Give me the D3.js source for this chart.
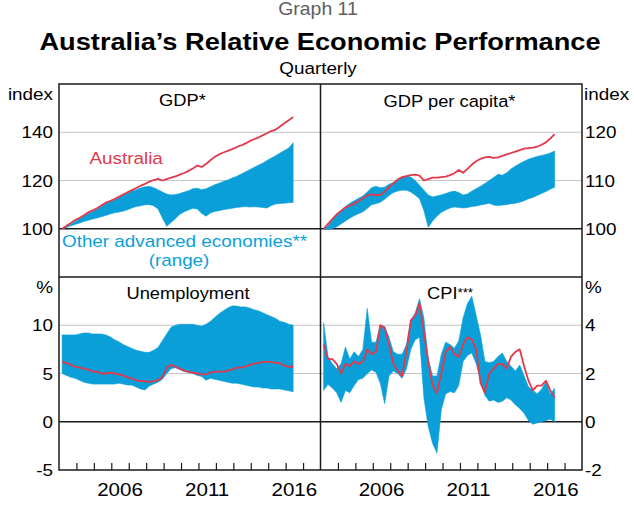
<!DOCTYPE html>
<html>
<head>
<meta charset="utf-8">
<script src="https://cdn.jsdelivr.net/npm/d3@7/dist/d3.min.js"></script>
<style>
  html, body { margin: 0; padding: 0; background: #fff; }
  svg { display: block; }
</style>
</head>
<body>
<div id="chart"></div>
<script>
// ---------------- DATA (quarterly, 2003 Q1 – 2016 Q2) ----------------
const quarters = [
  "2003-Q1","2003-Q2","2003-Q3","2003-Q4","2004-Q1","2004-Q2","2004-Q3","2004-Q4",
  "2005-Q1","2005-Q2","2005-Q3","2005-Q4","2006-Q1","2006-Q2","2006-Q3","2006-Q4",
  "2007-Q1","2007-Q2","2007-Q3","2007-Q4","2008-Q1","2008-Q2","2008-Q3","2008-Q4",
  "2009-Q1","2009-Q2","2009-Q3","2009-Q4","2010-Q1","2010-Q2","2010-Q3","2010-Q4",
  "2011-Q1","2011-Q2","2011-Q3","2011-Q4","2012-Q1","2012-Q2","2012-Q3","2012-Q4",
  "2013-Q1","2013-Q2","2013-Q3","2013-Q4","2014-Q1","2014-Q2","2014-Q3","2014-Q4",
  "2015-Q1","2015-Q2","2015-Q3","2015-Q4","2016-Q1","2016-Q2"
];

// GDP index (2003 Q1 = 100)
const gdpAus = [
  100.0,101.2,102.4,103.6, 104.5,105.6,106.8,107.6, 108.5,109.6,110.8,111.5,
  112.3,113.2,114.2,115.1, 116.0,116.9,117.8,118.6, 119.5,120.2,120.7,120.0,
  120.6,121.2,121.7,122.4, 123.1,124.0,125.0,126.2, 125.6,126.8,128.4,129.8,
  130.8,131.6,132.3,133.0, 133.8,134.5,135.3,136.3, 137.1,137.8,138.7,139.6,
  140.5,141.1,142.4,143.7, 145.0,146.3
];
const gdpHigh = [
  100.0,100.8,101.9,103.0, 104.3,105.3,106.3,107.2, 108.1,109.2,110.4,111.2,
  112.0,113.0,113.9,114.8, 115.6,116.2,116.9,117.4, 117.6,117.0,116.2,115.2,
  114.4,114.0,114.2,114.6, 115.2,115.8,116.6,116.8, 116.2,116.6,117.4,118.2,
  118.9,119.6,120.2,121.0, 121.7,122.6,123.5,124.5, 125.4,126.3,127.2,128.3,
  129.3,130.3,131.4,132.4, 133.5,135.6
];
const gdpLow = [
  100.0,100.5,101.2,101.8, 102.4,103.0,103.5,104.0, 104.5,105.0,105.5,106.1,
  106.6,106.9,107.3,107.9, 108.6,109.2,109.5,109.9, 110.0,109.5,108.2,104.5,
  101.0,102.6,104.2,106.0, 107.0,107.8,108.5,108.2, 106.4,105.2,106.5,107.2,
  107.5,107.9,108.2,108.5, 108.8,109.0,109.2,109.0, 109.1,109.0,108.8,108.6,
  109.6,110.3,110.5,110.6, 110.8,110.9
];

// GDP per capita index (2003 Q1 = 100)
const gdppcAus = [
  100.0,101.0,102.0,103.0, 103.7,104.4,104.8,105.2, 105.7,106.3,106.9,107.1,
  107.0,107.0,107.7,108.6, 109.4,110.2,110.7,110.9, 111.1,111.2,111.0,110.0,
  110.3,110.6,110.6,110.7, 110.8,111.1,111.5,112.2, 111.6,112.4,113.3,114.0,
  114.5,114.8,114.9,114.7, 114.8,115.1,115.4,115.7, 116.0,116.3,116.6,116.7,
  116.8,117.0,117.4,117.9, 118.7,119.6
];
const gdppcHigh = [
  100.0,100.6,101.8,103.0, 103.8,104.6,105.3,105.8, 106.3,106.8,107.6,108.5,
  108.8,108.5,108.6,109.2, 109.6,110.1,110.6,110.9, 110.7,110.0,109.0,108.0,
  107.0,106.6,106.8,107.0, 107.3,107.6,107.8,107.5, 107.0,107.2,107.8,108.3,
  108.8,109.4,110.0,110.6, 111.3,111.1,111.6,112.4, 113.0,113.5,114.0,114.4,
  114.7,115.0,115.2,115.4, 115.7,116.1
];
const gdppcLow = [
  100.0, 99.9,100.0,100.4, 101.0,101.6,102.2,102.7, 103.1,103.5,104.2,105.0,
  105.2,105.5,106.1,106.9, 107.5,107.8,108.0,108.0, 107.6,107.0,106.2,103.8,
  100.3,101.6,102.6,103.4, 103.9,104.3,104.5,104.4, 104.3,104.4,104.6,104.7,
  104.9,105.1,105.3,104.9, 104.8,104.9,105.0,105.2, 105.3,105.5,105.8,106.2,
  106.5,106.9,107.3,107.7, 108.2,108.6
];

// Unemployment rate (%)
const unempAus = [
  6.2,6.1,5.9,5.7, 5.6,5.5,5.4,5.2, 5.2,5.0,5.0,5.1, 5.0,4.9,4.8,4.6,
  4.5,4.3,4.2,4.2, 4.1,4.2,4.3,4.6, 5.6,5.9,5.7,5.5, 5.3,5.2,5.1,5.0,
  4.9,4.9,5.1,5.2, 5.2,5.2,5.3,5.4, 5.6,5.6,5.7,5.9, 6.0,6.1,6.2,6.2,
  6.2,6.1,6.1,5.8, 5.7,5.7
];
const unempHigh = [
  9.0,9.0,9.0,9.0, 9.1,9.2,9.2,9.1, 9.1,9.1,9.0,8.8, 8.5,8.3,8.0,7.8,
  7.6,7.4,7.3,7.2, 7.2,7.4,7.7,8.4, 9.1,9.8,10.0,10.1, 10.1,10.1,10.1,10.0,
  9.9,10.1,10.4,10.8, 11.2,11.5,11.8,12.0, 12.0,11.9,11.9,11.8, 11.6,11.5,11.3,11.1,
  10.9,10.7,10.4,10.3, 10.1,10.0
];
const unempLow = [
  5.0,4.8,4.6,4.5, 4.3,4.1,4.0,3.9, 3.9,3.9,3.9,3.9, 3.9,4.0,3.9,3.8,
  3.8,3.6,3.4,3.3, 3.7,3.9,4.1,4.4, 5.0,5.5,5.6,5.4, 5.2,5.1,5.0,4.8,
  4.7,4.3,4.5,4.4, 4.3,4.2,4.1,4.0, 4.0,3.9,3.8,3.7, 3.6,3.6,3.5,3.5,
  3.4,3.4,3.4,3.3, 3.2,3.1
];

// CPI inflation, year-ended (%)
const cpiAus = [
  3.2,2.6,2.6,2.4, 2.0,2.4,2.3,2.5, 2.4,2.5,3.0,2.8, 2.9,4.0,3.9,3.2,
  2.4,2.1,1.9,2.9, 4.2,4.4,4.9,3.7, 2.5,1.5,1.2,2.0, 2.9,3.1,2.8,2.7,
  3.2,3.5,3.4,3.0, 1.6,1.2,2.0,2.2, 2.4,2.4,2.2,2.7, 2.9,3.0,2.3,1.7,
  1.3,1.5,1.5,1.7, 1.3,1.0
];
const cpiHigh = [
  4.1,2.7,2.4,2.2, 2.4,3.1,2.6,2.9, 2.7,3.0,4.7,3.3, 3.3,4.0,3.95,3.5,
  2.9,2.8,2.8,3.2, 4.2,4.5,5.1,4.3, 2.6,1.9,1.9,2.8, 3.3,3.2,3.05,3.35,
  4.3,4.9,5.2,4.4, 3.6,2.5,2.45,2.5, 2.7,2.85,2.5,2.3, 2.1,2.35,1.9,1.45,
  1.3,1.15,1.35,1.65, 1.15,1.38
];
const cpiLow = [
  1.3,1.55,1.4,1.2, 0.8,1.3,1.2,1.5, 1.75,1.8,2.0,2.15, 2.05,1.6,0.75,1.9,
  2.1,2.0,1.8,2.2, 3.0,3.4,3.5,1.0, -0.2,-0.9,-1.3,0.5, 1.15,1.25,1.2,1.5,
  2.5,2.75,2.85,2.4, 1.7,1.1,0.85,0.9, 0.8,0.85,1.0,0.9, 0.7,0.55,0.35,0.05,
  -0.1,-0.05,0.0,0.05, 0.1,0.0
];

// Axis tick labels
const gdpTicks = [100, 120, 140];
const gdppcTicks = [100, 110, 120];
const unempTicks = [-5, 0, 5, 10];
const cpiTicks = [-2, 0, 2, 4];
const yearLabels = [2006, 2011, 2016];
const yearTicks = [2004,2005,2006,2007,2008,2009,2010,2011,2012,2013,2014,2015,2016,2017];

// ---------------- DRAWING ----------------
const W = 634, H = 506;
const SX = 1.11; // horizontal stretch of the lettering
const FONT = "'Liberation Sans', Arial, Helvetica, sans-serif";
const BLUE = "#0a9fd9";
const RED = "#e2394b";

const svg = d3.select("#chart").append("svg")
  .attr("width", W).attr("height", H)
  .attr("viewBox", `0 0 ${W} ${H}`);
svg.append("rect").attr("width", W).attr("height", H).attr("fill", "#fff");

function txt(x, y, s, o = {}) {
  return svg.append("text")
    .attr("transform", `translate(${x},${y}) scale(${o.sx || SX},1)`)
    .attr("text-anchor", o.anchor || "start")
    .attr("fill", o.fill || "#000")
    .attr("font-weight", o.weight || "normal")
    .style("font-family", FONT)
    .style("font-size", (o.size || 17) + "px")
    .text(s);
}

const dates = quarters.map(q => {
  const [y, qq] = q.split("-Q");
  return +y + (+qq - 1) / 4 + 0.18;
});

const L = 59, M = 320.5, R = 582;
const T = 84, MID = 277, B = 470;

const panels = [
  { x0: L, x1: M, y0: MID, y1: T, dom: [80, 160], ticks: gdpTicks, base: 100,
    lo: gdpLow, hi: gdpHigh, aus: gdpAus, side: "left" },
  { x0: M, x1: R, y0: MID, y1: T, dom: [90, 130], ticks: gdppcTicks, base: 100,
    lo: gdppcLow, hi: gdppcHigh, aus: gdppcAus, side: "right" },
  { x0: L, x1: M, y0: B, y1: MID, dom: [-5, 15], ticks: unempTicks, base: 0,
    lo: unempLow, hi: unempHigh, aus: unempAus, side: "left", xaxis: true },
  { x0: M, x1: R, y0: B, y1: MID, dom: [-2, 6], ticks: cpiTicks, base: 0,
    lo: cpiLow, hi: cpiHigh, aus: cpiAus, side: "right", xaxis: true }
];

panels.forEach((p, i) => {
  const x = d3.scaleLinear().domain([2003, 2018]).range([p.x0, p.x1]);
  const y = d3.scaleLinear().domain(p.dom).range([p.y0, p.y1]);
  const g = svg.append("g");
  const clipId = "clip" + i;
  svg.append("clipPath").attr("id", clipId)
    .append("rect").attr("x", p.x0).attr("y", p.y1)
    .attr("width", p.x1 - p.x0).attr("height", p.y0 - p.y1);

  // grid lines
  p.ticks.filter(t => t !== p.base && y(t) > p.y1 + 1 && y(t) < p.y0 - 1).forEach(t => {
    g.append("line").attr("x1", p.x0).attr("x2", p.x1)
      .attr("y1", y(t)).attr("y2", y(t))
      .attr("stroke", "#c4c4c4").attr("stroke-width", 1);
  });
  // base line
  g.append("line").attr("x1", p.x0).attr("x2", p.x1)
    .attr("y1", y(p.base)).attr("y2", y(p.base))
    .attr("stroke", "#1a1a1a").attr("stroke-width", 1.3);

  const rows = dates.map((d, k) => ({ d, lo: p.lo[k], hi: p.hi[k], a: p.aus[k] }));
  const area = d3.area().x(r => x(r.d)).y0(r => y(r.lo)).y1(r => y(r.hi));
  const line = d3.line().x(r => x(r.d)).y(r => y(r.a));
  const cg = g.append("g").attr("clip-path", `url(#${clipId})`);
  cg.append("path").datum(rows).attr("d", area)
    .attr("fill", BLUE).attr("stroke", BLUE).attr("stroke-width", 0.6);
  cg.append("path").datum(rows).attr("d", line)
    .attr("fill", "none").attr("stroke", RED).attr("stroke-width", 1.8)
    .attr("stroke-linejoin", "round");

  // y tick labels
  p.ticks.forEach(t => {
    if (p.side === "left") txt(53, y(t) + 6, String(t), { anchor: "end", size: 17 });
    else txt(585, y(t) + 6, String(t), { anchor: "start", size: 17 });
  });

  // x axis ticks and labels
  if (p.xaxis) {
    const ax = g.append("g").attr("transform", `translate(0,${p.y0})`)
      .call(d3.axisBottom(x).tickValues(yearTicks).tickSize(-7).tickFormat(""));
    ax.select(".domain").remove();
    ax.selectAll(".tick line").attr("stroke", "#1a1a1a").attr("stroke-width", 1.2);
    yearLabels.forEach(yr => txt(x(yr + 0.5), 496, String(yr), { anchor: "middle", size: 18.5 }));
  }
});

// frame
const fr = svg.append("g").attr("fill", "none").attr("stroke", "#1a1a1a").attr("stroke-width", 1.5);
fr.append("rect").attr("x", L).attr("y", T).attr("width", R - L).attr("height", B - T);
fr.append("line").attr("x1", L).attr("x2", R).attr("y1", MID).attr("y2", MID);
fr.append("line").attr("x1", M).attr("x2", M).attr("y1", T).attr("y2", B);

// units
txt(53, 100, "index", { anchor: "end", size: 17 });
txt(584, 100, "index", { anchor: "start", size: 17 });
txt(53, 293, "%", { anchor: "end", size: 17 });
txt(585, 293, "%", { anchor: "start", size: 17 });

// panel titles
txt(182.5, 106, "GDP*", { anchor: "middle", size: 16.5 });
txt(449.5, 106.5, "GDP per capita*", { anchor: "middle", size: 16.5 });
txt(188, 299, "Unemployment", { anchor: "middle", size: 16.5 });
const cpiT = txt(450, 299, "CPI", { anchor: "middle", size: 16.5 });
cpiT.append("tspan").style("font-size", "12px").attr("dy", -2).text("***");

// series labels
txt(89.5, 164, "Australia", { size: 17, fill: RED });
txt(62, 247, "Other advanced economies**", { size: 16.4, fill: BLUE, sx: 1.15 });
txt(179, 265.5, "(range)", { anchor: "middle", size: 16.4, fill: BLUE, sx: 1.15 });

// headings
txt(318, 15, "Graph 11", { anchor: "middle", size: 17.5, fill: "#606060" });
txt(320, 49.5, "Australia’s Relative Economic Performance", { anchor: "middle", size: 24.5, weight: "bold" });
txt(318, 74, "Quarterly", { anchor: "middle", size: 17 });
</script>
</body>
</html>
